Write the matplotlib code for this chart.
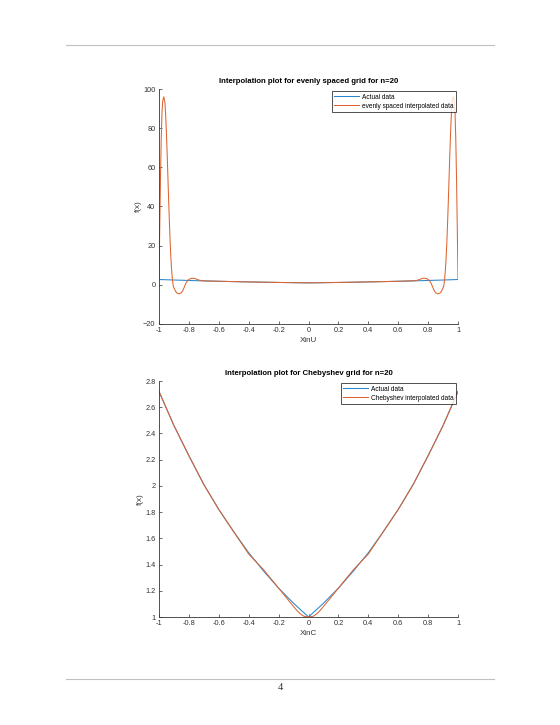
import matplotlib
matplotlib.use("Agg")
import matplotlib.pyplot as plt
from matplotlib.lines import Line2D

# ---------------- data ----------------
# actual data f(x)
x_actual = [-1.0, -0.9, -0.8, -0.7, -0.6, -0.5, -0.4, -0.3, -0.2, -0.1, 0.0,
            0.1, 0.2, 0.3, 0.4, 0.5, 0.6, 0.7, 0.8, 0.9, 1.0]
y_actual = [2.72, 2.46, 2.23, 2.01, 1.82, 1.65, 1.49, 1.35, 1.22, 1.105, 1.0,
            1.105, 1.22, 1.35, 1.49, 1.65, 1.82, 2.01, 2.23, 2.46, 2.72]

# evenly spaced interpolated data (n=20)
x_even = [-1.0, -0.995, -0.99, -0.985, -0.98, -0.975, -0.968, -0.96, -0.955, -0.95,
          -0.945, -0.94, -0.935, -0.93, -0.925, -0.92, -0.915, -0.91, -0.905, -0.9,
          -0.89, -0.88, -0.865, -0.85, -0.84, -0.83, -0.82, -0.81, -0.8, -0.785,
          -0.77, -0.755, -0.74, -0.72, -0.7, -0.6, -0.5, -0.4, -0.3, -0.2, -0.1, 0.0,
          0.1, 0.2, 0.3, 0.4, 0.5, 0.6, 0.7, 0.72, 0.74, 0.755, 0.77, 0.785,
          0.8, 0.81, 0.82, 0.83, 0.84, 0.85, 0.865, 0.88, 0.89, 0.9,
          0.905, 0.91, 0.915, 0.92, 0.925, 0.93, 0.935, 0.94, 0.945, 0.95,
          0.955, 0.96, 0.968, 0.975, 0.98, 0.985, 0.99, 0.995, 1.0]
y_even = [2.72, 30, 55, 75, 88, 94, 96, 93, 86, 77,
          66, 54, 42, 31, 21, 13, 7, 2.5, -0.5, -1.5,
          -3.2, -4.2, -4.6, -4.0, -2.8, -1.0, 0.8, 2.0, 2.8, 3.3,
          3.4, 3.1, 2.6, 2.2, 2.05, 1.82, 1.65, 1.49, 1.35, 1.22, 1.105, 1.0,
          1.105, 1.22, 1.35, 1.49, 1.65, 1.82, 2.05, 2.2, 2.6, 3.1, 3.4, 3.3,
          2.8, 2.0, 0.8, -1.0, -2.8, -4.0, -4.6, -4.2, -3.2, -1.5,
          -0.5, 2.5, 7, 13, 21, 31, 42, 54, 66, 77,
          86, 93, 96, 94, 88, 75, 55, 30, 2.72]

# Chebyshev interpolated data (n=20)
x_cheb = [-1.0, -0.9, -0.8, -0.7, -0.6, -0.5, -0.4, -0.35, -0.3, -0.25, -0.2, -0.15,
          -0.1, -0.07, -0.05, -0.03, 0.0, 0.03, 0.05, 0.07, 0.1, 0.15, 0.2, 0.25,
          0.3, 0.35, 0.4, 0.5, 0.6, 0.7, 0.8, 0.9, 1.0]
y_cheb = [2.72, 2.46, 2.23, 2.01, 1.82, 1.65, 1.48, 1.42, 1.36, 1.29, 1.22, 1.15,
          1.08, 1.04, 1.02, 1.005, 1.0, 1.005, 1.02, 1.04, 1.08, 1.15, 1.22, 1.29,
          1.36, 1.42, 1.48, 1.65, 1.82, 2.01, 2.23, 2.46, 2.72]

x_ticks = [-1, -0.8, -0.6, -0.4, -0.2, 0, 0.2, 0.4, 0.6, 0.8, 1]
x_ticklabels = ["-1", "-0.8", "-0.6", "-0.4", "-0.2", "0", "0.2", "0.4", "0.6", "0.8", "1"]
y_ticks_top = [-20, 0, 20, 40, 60, 80, 100]
y_ticks_bot = [1, 1.2, 1.4, 1.6, 1.8, 2, 2.2, 2.4, 2.6, 2.8]
y_ticklabels_bot = ["1", "1.2", "1.4", "1.6", "1.8", "2", "2.2", "2.4", "2.6", "2.8"]

# ---------------- style ----------------
plt.rcParams['font.family'] = ['Liberation Sans', 'DejaVu Sans']
BLUE = "#2a86cc"
RED = "#dd6430"
AX = "#333333"
W, H = 560, 725
fig = plt.figure(figsize=(W / 100, H / 100), dpi=100)


def px_axes(l, t, r, b):
    return fig.add_axes([l / W, 1 - b / H, (r - l) / W, (b - t) / H])


def style(ax):
    for s in ("top", "right"):
        ax.spines[s].set_visible(False)
    for s in ("left", "bottom"):
        ax.spines[s].set_color(AX)
        ax.spines[s].set_linewidth(0.6)
    ax.tick_params(direction="in", length=2.5, width=0.5, colors=AX,
                   labelsize=5.3, pad=2.5)
    ax.xaxis.set_ticks_position("bottom")
    ax.yaxis.set_ticks_position("left")


def legend(ax, labels):
    leg = ax.legend(labels, loc="upper right", fontsize=4.7, frameon=True,
                    fancybox=False, edgecolor="#000000", handlelength=3.8,
                    handletextpad=0.4, borderpad=0.35, labelspacing=0.3,
                    borderaxespad=0.35)
    leg.get_frame().set_linewidth(0.6)
    return leg


# top axes
ax1 = px_axes(159, 89, 458, 324)
ax1.plot(x_actual, y_actual, color=BLUE, lw=0.75)
ax1.plot(x_even, y_even, color=RED, lw=0.75)
ax1.set_xlim(-1, 1)
ax1.set_ylim(-20, 100)
ax1.set_xticks(x_ticks)
ax1.set_xticklabels(x_ticklabels)
ax1.set_yticks(y_ticks_top)
style(ax1)
ax1.set_title("Interpolation plot for evenly spaced grid for n=20",
              fontsize=5.6, fontweight="bold", color="#000000", pad=4)
ax1.set_xlabel("XinU", fontsize=5.8, color=AX, labelpad=1.5)
ax1.set_ylabel("f(x)", fontsize=5.8, color=AX, labelpad=1)
legend(ax1, ["Actual data", "evenly spaced interpolated data"])

# bottom axes
ax2 = px_axes(159, 381, 458, 617)
ax2.plot(x_actual, y_actual, color=BLUE, lw=0.75)
ax2.plot(x_cheb, y_cheb, color=RED, lw=0.75)
ax2.set_xlim(-1, 1)
ax2.set_ylim(1, 2.8)
ax2.set_xticks(x_ticks)
ax2.set_xticklabels(x_ticklabels)
ax2.set_yticks(y_ticks_bot)
ax2.set_yticklabels(y_ticklabels_bot)
style(ax2)
ax2.set_title("Interpolation plot for Chebyshev grid for n=20",
              fontsize=5.6, fontweight="bold", color="#000000", pad=4)
ax2.set_xlabel("XinC", fontsize=5.8, color=AX, labelpad=1.5)
ax2.set_ylabel("f(x)", fontsize=5.8, color=AX, labelpad=1)
legend(ax2, ["Actual data", "Chebyshev interpolated data"])

# page decorations
fig.add_artist(Line2D([66 / W, 494 / W], [1 - 45 / H, 1 - 45 / H],
                      color="#c0c0c0", lw=0.8))
fig.add_artist(Line2D([66 / W, 494 / W], [1 - 679 / H, 1 - 679 / H],
                      color="#c0c0c0", lw=0.8))
fig.text(280 / W, 1 - 687 / H, "4", ha="center", va="center", fontsize=7.5,
         family="Liberation Serif", color="#333333")

fig.savefig("out.png", dpi=100)
